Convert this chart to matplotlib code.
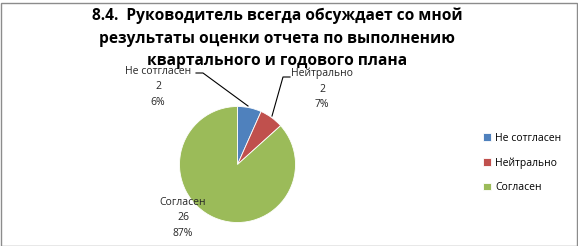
import matplotlib.pyplot as plt
from matplotlib.patches import Rectangle

plt.rcParams['font.family'] = ['Open Sans', 'DejaVu Sans']

# данные
categories = ['Не сотгласен', 'Нейтрально', 'Согласен']
values = [2, 2, 26]
percent_labels = ['6%', '7%', '87%']
colors = ['#4F81BD', '#C0504D', '#9BBB59']
title = ('8.4.  Руководитель всегда обсуждает со мной\n'
         'результаты оценки отчета по выполнению\n'
         'квартального и годового плана')

W, H = 578, 246
fig = plt.figure(figsize=(W / 100, H / 100), dpi=100)

# рамка вокруг диаграммы
fig.patches.append(Rectangle((0.5 / W, 0.5 / H), 1 - 2 / W, 1 - 3 / H,
                             transform=fig.transFigure, fill=False,
                             edgecolor='#8c8c8c', linewidth=1))

# пирог: центр (237, 164) px, радиус 58 px
cx, cy, r = 237.5, 164.5, 58
ax = fig.add_axes([(cx - r) / W, (H - cy - r) / H, 2 * r / W, 2 * r / H])
wedges, _ = ax.pie(values, colors=colors, startangle=90, counterclock=False,
                   wedgeprops=dict(edgecolor='white', linewidth=0.6))
ax.set_xlim(-1, 1)
ax.set_ylim(-1, 1)
ax.set_aspect('auto')
ax.axis('off')


def px(x, y):
    return ((x - cx) / r, (cy - y) / r)


# подписи данных (позиции в пикселях)
label_pos = [(158, 87), (322, 89), (183, 218)]
for i in range(len(values)):
    txt = f'{categories[i]}\n{values[i]}\n{percent_labels[i]}'
    ax.text(*px(*label_pos[i]), txt, ha='center', va='center', fontsize=7.5,
            linespacing=1.55, color='#262626', clip_on=False)

# выноски
ax.plot(*zip(*[px(*p) for p in [(196, 73), (203, 73), (248, 106)]]),
        color='black', lw=0.8, clip_on=False)
ax.plot(*zip(*[px(*p) for p in [(290, 77), (283, 77), (272, 116)]]),
        color='black', lw=0.8, clip_on=False)

fig.text(277 / W, 1 - 8 / H, title, ha='center', va='top', fontsize=11.2,
         fontweight='bold', linespacing=1.52)

fig.legend(wedges, categories, loc='center left',
           bbox_to_anchor=(474 / W, 1 - 163 / H), frameon=False,
           fontsize=7.5, handlelength=0.75, handleheight=0.75,
           handletextpad=0.4, labelspacing=1.3)

fig.savefig('out.png', dpi=100)
